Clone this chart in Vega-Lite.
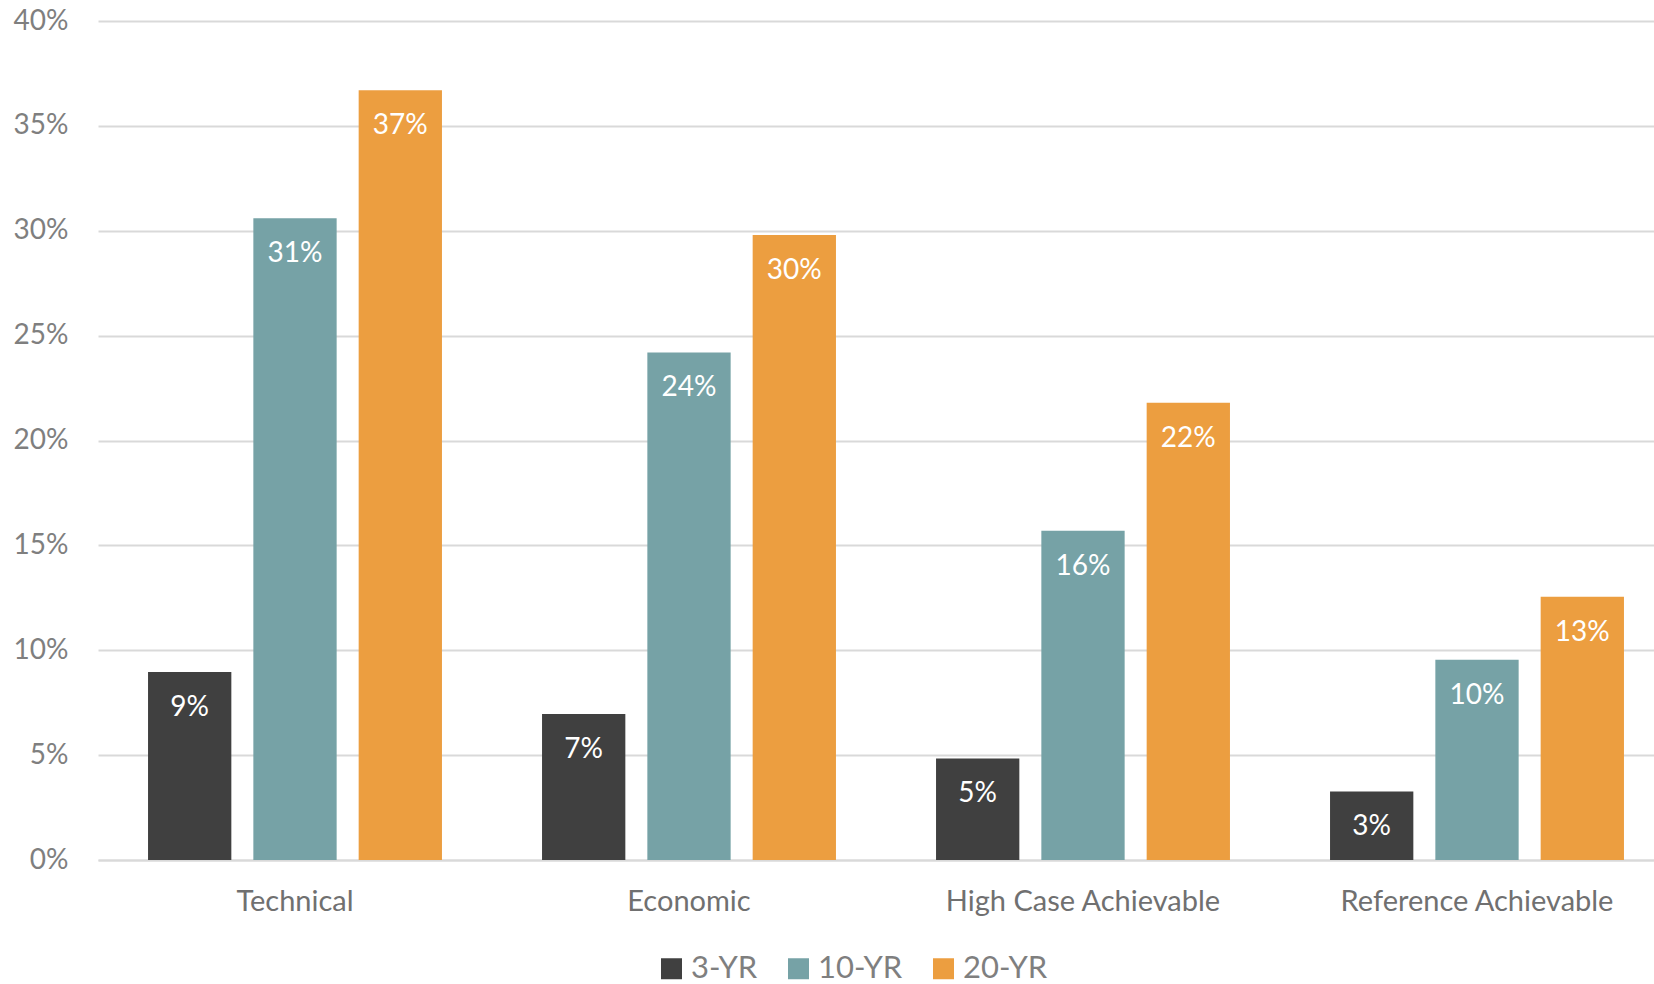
{
  "$schema": "https://vega.github.io/schema/vega-lite/v6.json",
  "autosize": {"type": "none"},
  "width": 1556,
  "height": 839,
  "padding": {"left": 98, "top": 21, "right": 0, "bottom": 124},
  "background": "white",
  "config": {
    "font": "Lato",
    "view": {"stroke": null}
  },
  "data": {
    "values": [
      {"category": "Technical", "period": "3-YR", "value": 0.0896},
      {"category": "Technical", "period": "10-YR", "value": 0.306},
      {"category": "Technical", "period": "20-YR", "value": 0.367},
      {"category": "Economic", "period": "3-YR", "value": 0.0696},
      {"category": "Economic", "period": "10-YR", "value": 0.242},
      {"category": "Economic", "period": "20-YR", "value": 0.298},
      {"category": "High Case Achievable", "period": "3-YR", "value": 0.0484},
      {"category": "High Case Achievable", "period": "10-YR", "value": 0.157},
      {"category": "High Case Achievable", "period": "20-YR", "value": 0.218},
      {"category": "Reference Achievable", "period": "3-YR", "value": 0.0327},
      {"category": "Reference Achievable", "period": "10-YR", "value": 0.0955},
      {"category": "Reference Achievable", "period": "20-YR", "value": 0.1255}
    ]
  },
  "encoding": {
    "x": {
      "field": "category",
      "type": "nominal",
      "sort": ["Technical", "Economic", "High Case Achievable", "Reference Achievable"],
      "scale": {"paddingInner": 0.254, "paddingOuter": 0.127, "range": [0, 1576]},
      "axis": {
        "title": null,
        "labelAngle": 0,
        "ticks": false,
        "labelPadding": 27,
        "labelFontSize": 29,
        "labelLimit": 0,
        "labelColor": "#707070",
        "domainColor": "#d9d9d9",
        "domainWidth": 2,
        "grid": false
      }
    },
    "xOffset": {
      "field": "period",
      "type": "nominal",
      "sort": ["3-YR", "10-YR", "20-YR"],
      "scale": {"paddingInner": 0.209, "paddingOuter": 0}
    },
    "y": {
      "field": "value",
      "type": "quantitative",
      "scale": {"domain": [0, 0.4], "nice": false},
      "axis": {
        "title": null,
        "format": ".0%",
        "values": [0, 0.05, 0.1, 0.15, 0.2, 0.25, 0.3, 0.35, 0.4],
        "ticks": false,
        "domain": false,
        "labelPadding": 30,
        "labelFontSize": 28,
        "labelColor": "#7f7f7f",
        "gridColor": "#d9d9d9",
        "gridWidth": 2
      }
    }
  },
  "layer": [
    {
      "mark": {"type": "bar"},
      "encoding": {
        "color": {
          "field": "period",
          "type": "nominal",
          "sort": ["3-YR", "10-YR", "20-YR"],
          "scale": {"domain": ["3-YR", "10-YR", "20-YR"], "range": ["#404040", "#76A2A6", "#EC9E40"]},
          "legend": {
            "title": null,
            "orient": "none",
            "legendX": 558,
            "legendY": 932,
            "direction": "horizontal",
            "symbolType": "square",
            "symbolSize": 441,
            "symbolStrokeWidth": 0,
            "symbolOpacity": 1,
            "labelFontSize": 31,
            "labelColor": "#7f7f7f",
            "labelOffset": 4,
            "columnPadding": 25
          }
        }
      }
    },
    {
      "mark": {"type": "text", "baseline": "middle", "dy": 36, "fontSize": 28, "color": "white"},
      "encoding": {
        "text": {"field": "value", "type": "quantitative", "format": ".0%"}
      }
    }
  ]
}
